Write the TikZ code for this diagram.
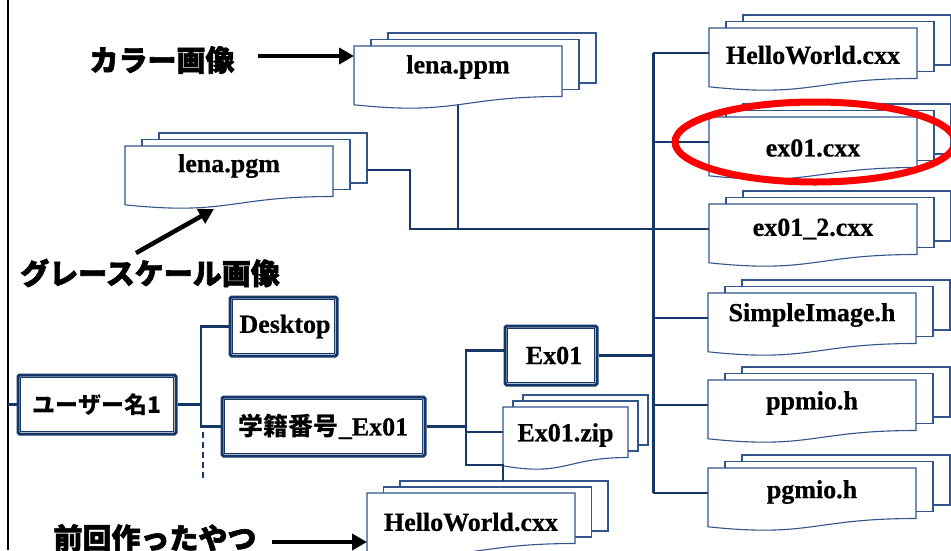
\documentclass[tikz,border=0pt]{standalone}
\usepackage{fontspec}
\setmainfont{Liberation Serif}[BoldFeatures={FakeBold=0.6}]
\newfontfamily\cjk{Noto Sans CJK JP}
\newfontfamily\cjkpop{Noto Sans CJK JP}[BoldFeatures={FakeBold=2}]
\usetikzlibrary{arrows.meta,calc,shapes.geometric}
\definecolor{navy}{RGB}{22,56,104}
\definecolor{docc}{RGB}{50,85,140}
\tikzset{
 conn/.style={draw=navy, line width=2.6pt},
 docline/.style={draw=docc, line width=1.1pt, fill=white},
 ftext/.style={font=\fontsize{26}{30}\selectfont\bfseries, inner sep=0},
 dbox/.style={draw=navy, line width=3pt, fill=white, rounded corners=1.5pt, inner sep=0, font=\fontsize{26}{30}\selectfont\bfseries},
 jtext/.style={font=\cjk\bfseries\fontsize{23}{26}\selectfont},
 pop/.style={font=\cjkpop\bfseries\fontsize{29}{32}\selectfont, inner sep=0},
 bigarrow/.style={draw=black, line width=4.5pt, -{Triangle[length=15pt,width=16pt]}},
}
\newcommand\innerframe[1]{\draw[navy, line width=0.8pt] ([shift={(3.8,3.8)}]#1.north west) rectangle ([shift={(-3.8,-3.8)}]#1.south east);}
\newcommand\docfile[8]{%
 \draw[docline] ({#2+2*#5},{#3-2*#6}) rectangle ({#2+#4+2*#5},{#3-2*#6+50});
 \draw[docline] ({#2+#5},{#3-#6}) rectangle ({#2+#4+#5},{#3-#6+50});
 \draw[docline] (#2,#3) -- ({#2+#4},#3) -- ({#2+#4},{#3+50.5}) .. controls ({#2+#4/2},{#3+50.5}) and ({#2+#4/2},{#3+69.7}) .. (#2,{#3+58.8}) -- cycle;
 \node[ftext] (#1) at ({#2+#4/2},{#3+#8}) {#7};
 \coordinate (#1-w) at (#2,{#3+25});
 \coordinate (#1-b) at ({#2+#4/2},{#3+58.7});
 \coordinate (#1-e) at ({#2+#4+2*#5},{#3+24});
}
\begin{document}
\begin{tikzpicture}[x=1pt,y=-1pt]
\useasboundingbox (0,0) rectangle (951,550);
\fill[white] (0,0) rectangle (951,550);
% left border
\coordinate (bt) at (8,0); \coordinate (bb) at (8,550);
\draw[black, line width=2.8pt] (bt) -- (bb);

% documents
\docfile{ppm}{354}{46}{208}{17}{6.5}{lena.ppm}{21}
\docfile{pgm}{125}{146}{208}{17}{6.5}{lena.pgm}{20}
\docfile{hwr}{709}{28}{208}{17}{6.5}{HelloWorld.cxx}{27}
\docfile{ex01c}{709}{117}{208}{17}{6.5}{ex01.cxx}{31}
\docfile{ex012}{709}{204}{208}{17}{6.5}{ex01\_2.cxx}{25}
\docfile{simg}{708}{293}{208}{17}{6.5}{SimpleImage.h}{22}
\docfile{ppmio}{708}{380}{208}{17}{6.5}{ppmio.h}{23}
\docfile{pgmio}{708}{468}{208}{17}{6.5}{pgmio.h}{24}
\docfile{zip}{503}{407}{125}{10}{6}{Ex01.zip}{28}
\docfile{hwb}{367}{493}{208}{16.5}{6}{HelloWorld.cxx}{29}

% boxes
\node[dbox, jtext, minimum width=158pt, minimum height=59pt] (user) at (97,404.5) {ユーザー名1};
\innerframe{user}
\node[dbox, minimum width=107pt, minimum height=59pt] (desk) at (283.5,326.5) {\hspace*{3pt}Desktop};
\innerframe{desk}
\node[dbox, minimum width=203pt, minimum height=59pt] (gak) at (323.5,426.5) {{\cjk\bfseries\fontsize{25}{28}\selectfont 学籍番号}\_Ex01};
\innerframe{gak}
\node[dbox, minimum width=92pt, minimum height=59pt] (ex01) at (551,355.5) {\hspace*{6pt}Ex01};
\innerframe{ex01}

% connectors
\coordinate (lb) at (8,404.5);
\draw[conn] (lb) -- (user.west);
\coordinate (j0) at (201,404.5);
\draw[conn] (user.east) -- (j0) |- (desk.west);
\draw[conn] (j0) |- (gak.west);
\coordinate (d1) at (203,432); \coordinate (d2) at (203,478);
\draw[conn, dash pattern=on 6pt off 4pt] (d1) -- (d2);

\coordinate (j1) at (466,426.5);
\draw[conn, line width=3.4pt] (gak.east) -- (j1);
\draw[conn] (j1) |- ([yshift=5pt]ex01.west);
\draw[conn] (j1) |- (zip-w);
\coordinate (j2) at (503,465);
\coordinate (hwbt) at (503,481);
\draw[conn] (j1) |- (j2) -- (hwbt);

\coordinate (sp) at (653,0);
\draw[conn, line width=3pt] (sp |- hwr-w) -- (sp |- pgmio-w);
\foreach \n in {hwr,ex01c,ex012,simg,ppmio,pgmio} \draw[conn] (sp |- \n-w) -- (\n-w);
\draw[conn] (ex01.east) -- (ex01.east -| sp);
\draw[conn] (ppm-b) -- (ppm-b |- ex012-w);
\draw[conn] (pgm-e) -- ++(43,0) |- (sp |- ex012-w);

% labels and arrows
\node[pop] (l1) at (162,60) {カラー画像};
\coordinate (a1s) at (258,56); \coordinate (a1e) at (354,56);
\draw[bigarrow] (a1s) -- (a1e);
\node[pop] (l2) at (150,273) {グレースケール画像};
\coordinate (a2s) at (136,253); \coordinate (a2e) at (214,209);
\draw[bigarrow] (a2s) -- (a2e);
\node[pop] (l3) at (155,538) {前回作ったやつ};
\coordinate (a3s) at (272,542); \coordinate (a3e) at (367,542);
\draw[bigarrow] (a3s) -- (a3e);

% highlight
\node[draw=red, line width=7pt, ellipse, minimum width=280pt, minimum height=80pt, inner sep=0] (hl) at (815,142) {};
\end{tikzpicture}
\end{document}
